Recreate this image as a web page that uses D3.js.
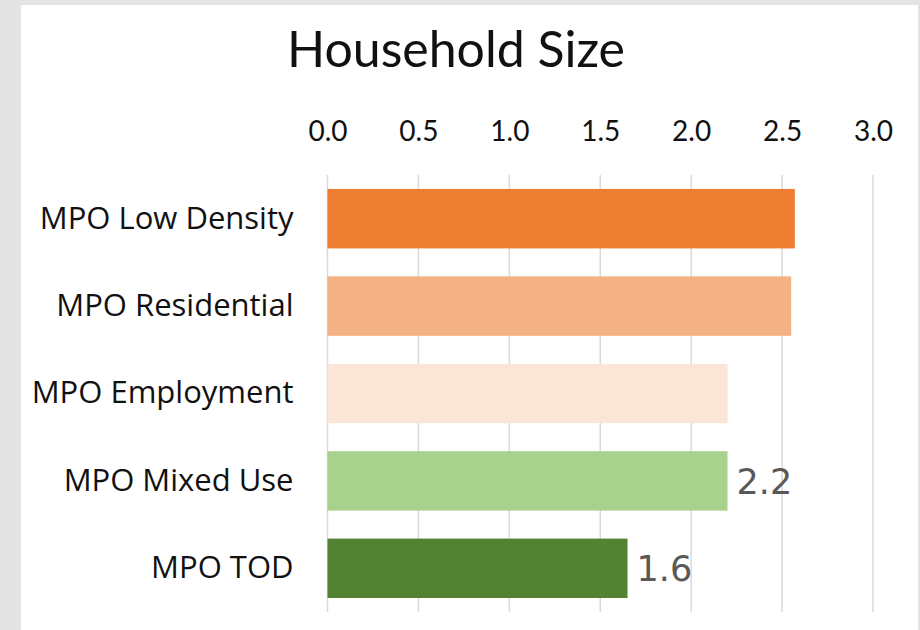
<!DOCTYPE html>
<html>
<head>
<meta charset="utf-8">
<script src="https://cdn.jsdelivr.net/npm/d3@7"></script>
<style>
  html, body { margin: 0; padding: 0; background: #e4e4e4; }
  svg { display: block; }
</style>
</head>
<body>
<div id="chart"></div>
<script>
// chart values
const categories = ["MPO Low Density", "MPO Residential", "MPO Employment", "MPO Mixed Use", "MPO TOD"];
const values = [2.57, 2.55, 2.2, 2.2, 1.65];
const barColors = ["#ed7d31", "#f4b183", "#fbe5d6", "#a9d18e", "#548235"];
const shownLabels = ["", "", "", "2.2", "1.6"];
const xTicks = [0, 0.5, 1, 1.5, 2, 2.5, 3];

const W = 920, H = 630;
const margin = {top: 175, left: 327.5, right: 47, bottom: 18};

const svg = d3.select("#chart").append("svg")
  .attr("width", W).attr("height", H);

// white panel
svg.append("rect")
  .attr("x", 21).attr("y", 5)
  .attr("width", 897).attr("height", 625)
  .attr("fill", "#ffffff");

const x = d3.scaleLinear()
  .domain([0, 3])
  .range([margin.left, W - margin.right]);

const y = d3.scaleBand()
  .domain(categories)
  .range([margin.top, H - margin.bottom])
  .paddingInner(0.32)
  .paddingOuter(0.16);

// title
svg.append("text")
  .attr("x", 456).attr("y", 67)
  .attr("text-anchor", "middle")
  .style("font-family", "Lato, 'Open Sans', sans-serif")
  .style("font-size", "50px")
  .attr("fill", "#111")
  .text("Household Size");

// gridlines
svg.append("g")
  .selectAll("line")
  .data(xTicks)
  .join("line")
    .attr("x1", d => x(d)).attr("x2", d => x(d))
    .attr("y1", margin.top).attr("y2", H - margin.bottom)
    .attr("stroke", "#d9d9d9")
    .attr("stroke-width", 1.5);

// top axis labels
const xAxis = svg.append("g")
  .attr("transform", `translate(0,${margin.top})`)
  .call(d3.axisTop(x).tickValues(xTicks).tickFormat(d3.format(".1f")).tickSize(0).tickPadding(34));
xAxis.select(".domain").remove();
xAxis.selectAll("text")
  .style("font-family", "Lato, 'Open Sans', sans-serif")
  .style("font-size", "28px")
  .attr("fill", "#111");

// category labels
const yAxis = svg.append("g")
  .attr("transform", `translate(${margin.left},0)`)
  .call(d3.axisLeft(y).tickSize(0).tickPadding(34));
yAxis.select(".domain").remove();
yAxis.selectAll("text")
  .style("font-family", "'Open Sans', sans-serif")
  .style("font-size", "31px")
  .attr("fill", "#111");

// bars
svg.append("g")
  .selectAll("rect")
  .data(categories)
  .join("rect")
    .attr("x", x(0))
    .attr("y", d => y(d))
    .attr("width", (d, i) => x(values[i]) - x(0))
    .attr("height", y.bandwidth())
    .attr("fill", (d, i) => barColors[i]);

// value labels
svg.append("g")
  .selectAll("text")
  .data(categories)
  .join("text")
    .attr("x", (d, i) => x(values[i]) + 9)
    .attr("y", d => y(d) + y.bandwidth() / 2)
    .attr("dy", "0.36em")
    .style("font-family", "'DejaVu Sans', sans-serif")
    .style("font-size", "35px")
    .attr("fill", "#595959")
    .text((d, i) => shownLabels[i]);
</script>
</body>
</html>
